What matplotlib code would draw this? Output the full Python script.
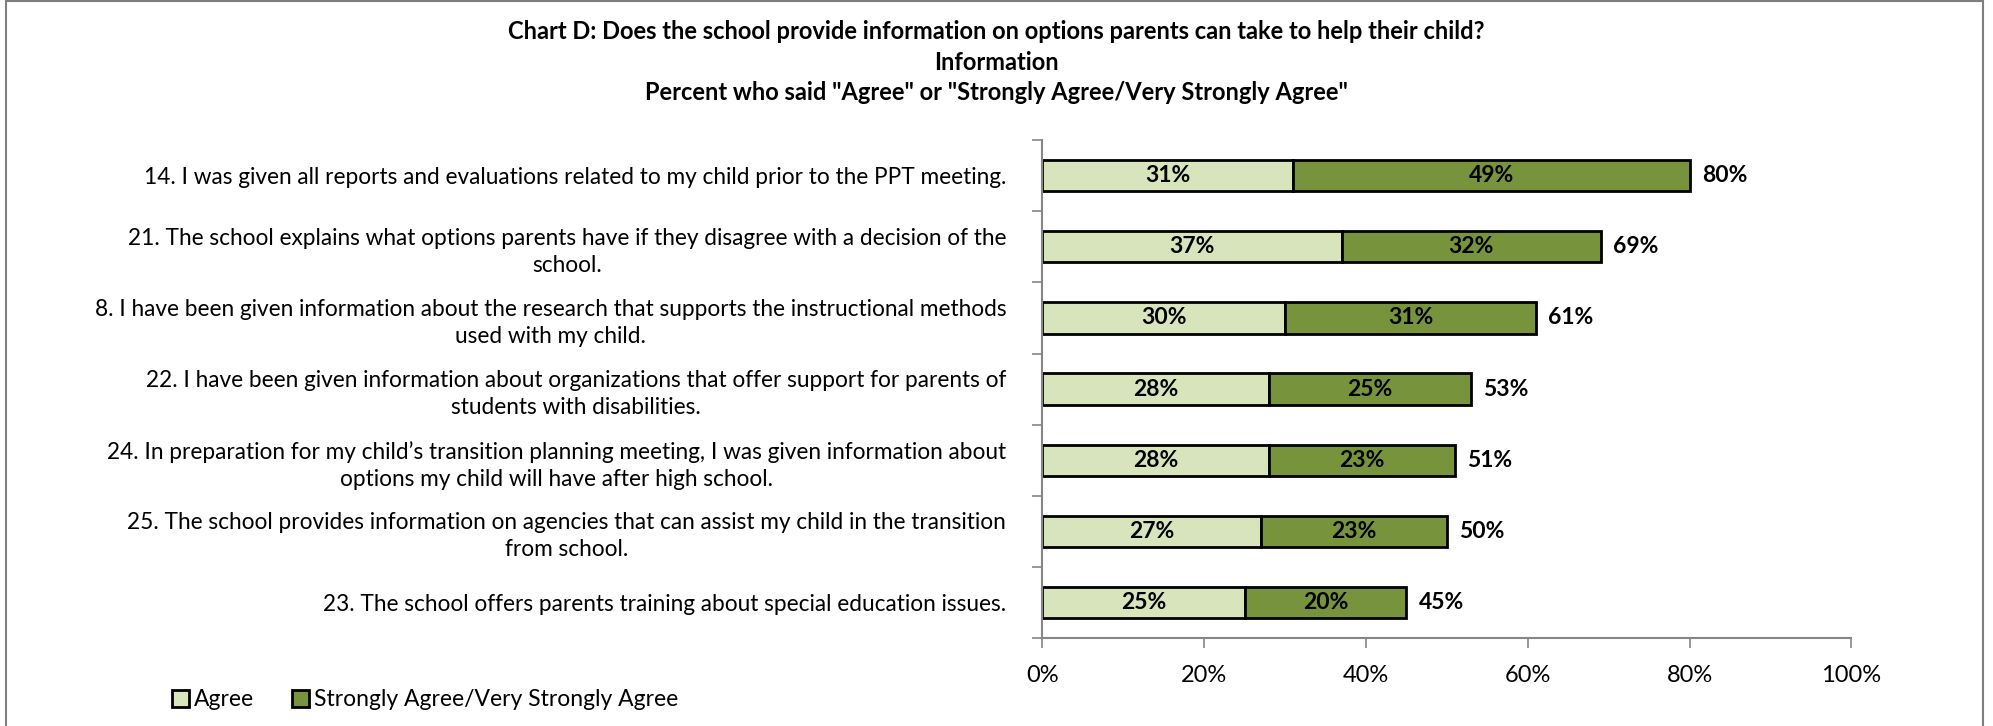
import matplotlib.pyplot as plt
import numpy as np
from matplotlib.patches import Rectangle

plt.rcParams["font.family"] = ["Lato", "DejaVu Sans"]

questions = [
    "14. I was given all reports and evaluations related to my child prior to the PPT meeting.",
    "21. The school explains what options parents have if they disagree with a decision of the\nschool.",
    "8. I have been given information about the research that supports the instructional methods\nused with my child.",
    "22. I have been given information about organizations that offer support for parents of\nstudents with disabilities.",
    "24. In preparation for my child\u2019s transition planning meeting, I was given information about\noptions my child will have after high school.",
    "25. The school provides information on agencies that can assist my child in the transition\nfrom school.",
    "23. The school offers parents training about special education issues.",
]
agree = [31, 37, 30, 28, 28, 27, 25]
strongly_agree = [49, 32, 31, 25, 23, 23, 20]
series_names = ["Agree", "Strongly Agree/Very Strongly Agree"]
x_ticks = [0, 20, 40, 60, 80, 100]

light_green = "#D8E4BC"
dark_green = "#77933C"
axis_gray = "#868686"

fig = plt.figure(figsize=(19.93, 7.26), dpi=100)
ax = fig.add_axes([0.523, 0.121, 0.406, 0.686])

y = np.arange(len(questions))
agree = np.array(agree)
strongly_agree = np.array(strongly_agree)
totals = agree + strongly_agree
height = 0.44

b1 = ax.barh(y, agree, height, color=light_green, edgecolor="black", linewidth=2, label=series_names[0])
b2 = ax.barh(y, strongly_agree, height, left=agree, color=dark_green, edgecolor="black",
             linewidth=2, label=series_names[1])

label_kw = {"fontsize": 16.5, "fontweight": "bold", "va": "center", "ha": "center"}
for i in range(len(questions)):
    ax.text(agree[i] / 2, y[i], f"{agree[i]}%", **label_kw)
    ax.text(agree[i] + strongly_agree[i] / 2, y[i], f"{strongly_agree[i]}%", **label_kw)
    ax.text(totals[i] + 1.5, y[i], f"{totals[i]}%", fontsize=16.5, fontweight="bold",
            va="center", ha="left")

ax.set_xlim(0, 100)
ax.set_ylim(len(questions) - 0.5, -0.5)
ax.set_xticks(x_ticks)
ax.set_xticklabels([f"{t}%" for t in x_ticks], fontsize=17)
ax.tick_params(axis="x", length=7, width=1.2, color=axis_gray, pad=12, direction="out")

ax.set_yticks(y)
ax.set_yticklabels(questions, fontsize=16.3, ha="right", multialignment="center", linespacing=1.35)
ax.tick_params(axis="y", length=0, pad=26)
ax.set_yticks(np.arange(len(questions) + 1) - 0.5, minor=True)
ax.tick_params(axis="y", which="minor", length=7, width=1.2, color=axis_gray)

for side in ["top", "right"]:
    ax.spines[side].set_visible(False)
for side in ["left", "bottom"]:
    ax.spines[side].set_color(axis_gray)
    ax.spines[side].set_linewidth(1.5)

title = [
    "Chart D: Does the school provide information on options parents can take to help their child?",
    "Information",
    'Percent who said "Agree" or "Strongly Agree/Very Strongly Agree"',
]
for k, line in enumerate(title):
    fig.text(0.5, 0.956 - k * 0.042, line, fontsize=17, fontweight="bold", ha="center", va="center")

fig.legend(handles=[b1, b2], labels=series_names, loc="center left",
           bbox_to_anchor=(0.076, 0.036), ncol=2, frameon=False, fontsize=16.5,
           handlelength=0.75, handleheight=0.75, handletextpad=0.2, columnspacing=1.65)

fig.patches.append(Rectangle((0.003, -0.05), 0.992, 1.048, transform=fig.transFigure,
                             fill=False, edgecolor="#7f7f7f", linewidth=1.5))

fig.savefig("out.png", dpi=100)
